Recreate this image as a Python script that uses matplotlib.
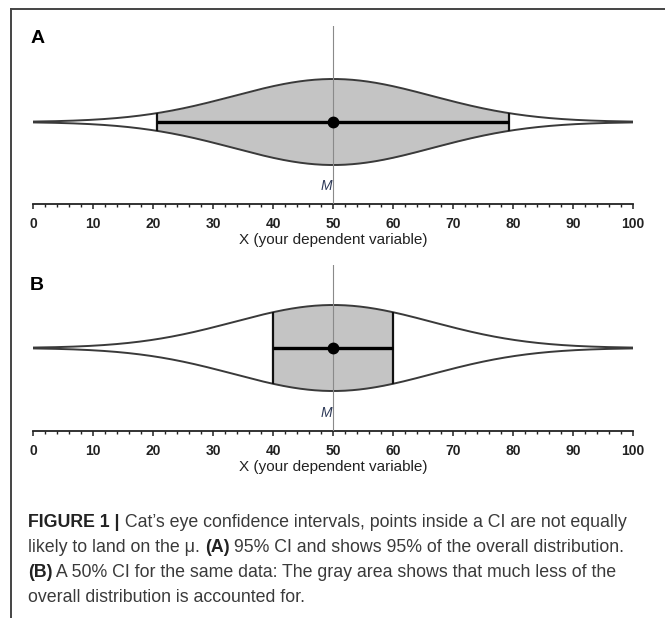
import numpy as np
import matplotlib
matplotlib.use('Agg')
import matplotlib.pyplot as plt
from matplotlib.lines import Line2D

# values
mean, sd = 50, 16.5
ci_a = [20.6, 79.4]          # 95% CI
ci_b = [40, 60]              # 50% CI
major_ticks = [0, 10, 20, 30, 40, 50, 60, 70, 80, 90, 100]
minor_ticks = list(range(0, 101, 2))
panel_names = ['A', 'B']
x_label = 'X (your dependent variable)'
caption = [
    [('FIGURE 1 |', True), (' Cat\u2019s eye confidence intervals, points inside a CI are not equally', False)],
    [('likely to land on the \u03bc. ', False), ('(A)', True), (' 95% CI and shows 95% of the overall distribution.', False)],
    [('(B)', True), (' A 50% CI for the same data: The gray area shows that much less of the', False)],
    [('overall distribution is accounted for.', False)],
]

W, H = 665, 618
fig = plt.figure(figsize=(W / 100, H / 100), dpi=100)
plt.rcParams['font.family'] = ['Liberation Sans', 'DejaVu Sans']

def px_box(left, right, top, bottom):
    return [left / W, 1 - bottom / H, (right - left) / W, (bottom - top) / H]

xs = np.linspace(0, 100, 801)
h = np.exp(-0.5 * ((xs - mean) / sd) ** 2)

def panel(box, ci, name, center_up, amp, name_xy):
    ax = fig.add_axes(box)
    height_px = box[3] * H
    ax.set_xlim(0, 100)
    ax.set_ylim(-center_up / amp, (height_px - center_up) / amp)
    inside = (xs >= ci[0]) & (xs <= ci[1])
    ax.fill_between(xs[inside], -h[inside], h[inside], color='#c4c4c4', lw=0, zorder=1)
    ax.plot(xs, h, color='#3a3a3a', lw=1.4, zorder=2)
    ax.plot(xs, -h, color='#3a3a3a', lw=1.4, zorder=2)
    he = np.exp(-0.5 * ((np.array(ci) - mean) / sd) ** 2)
    ax.vlines(ci, -he, he, color='#111111', lw=1.6, zorder=3)
    ax.axvline(mean, color='#8a8a8a', lw=0.8, zorder=3)
    ax.plot(ci, [0, 0], color='black', lw=2.4, zorder=4, solid_capstyle='butt')
    ax.plot([mean], [0], 'o', color='black', ms=7.5, zorder=5)
    for s in ['top', 'right', 'left']:
        ax.spines[s].set_visible(False)
    ax.spines['bottom'].set_linewidth(1.3); ax.spines['bottom'].set_color('#222222')
    ax.set_yticks([])
    ax.set_xticks(major_ticks)
    ax.set_xticks(minor_ticks, minor=True)
    ax.set_xticklabels([str(t) for t in major_ticks], fontsize=10, fontweight='bold', color='#222222')
    ax.tick_params(axis='x', which='major', direction='out', length=3.5, width=1.1, pad=6, color='#222222')
    ax.tick_params(axis='x', which='minor', direction='out', length=2.5, width=1.0, color='#222222')
    ax.set_xlabel(x_label, fontsize=11, labelpad=1, color='#222222')
    ax.annotate('M', xy=(mean, 0), xycoords=('data', 'axes fraction'), xytext=(-1, 8),
                textcoords='offset points', ha='right', va='bottom', fontsize=10,
                style='italic', color='#2e3a58')
    fig.text(name_xy[0] / W, 1 - name_xy[1] / H, name, fontsize=14, fontweight='bold',
             ha='left', va='baseline')
    return ax

panel(px_box(33, 633, 26, 204), ci_a, panel_names[0], 82, 43, (31, 43))
panel(px_box(33, 633, 265, 431), ci_b, panel_names[1], 83, 43, (30, 290))

# frame lines
fig.add_artist(Line2D([11 / W, 1], [1 - 9 / H] * 2, color='#444444', lw=1.4))
fig.add_artist(Line2D([11 / W] * 2, [1 - 9 / H, 0], color='#444444', lw=1.4))

# caption, mixed bold and normal runs
fig.canvas.draw()
renderer = fig.canvas.get_renderer()
baselines = [527, 552, 577, 602]
for line, yb in zip(caption, baselines):
    x = 28
    for s, bold in line:
        t = fig.text(x / W, 1 - yb / H, s, fontsize=12.8, ha='left', va='baseline',
                     fontweight='bold' if bold else 'normal',
                     color='#222222' if bold else '#3a3a3a')
        x += t.get_window_extent(renderer).width

fig.savefig('out.png', dpi=100)
